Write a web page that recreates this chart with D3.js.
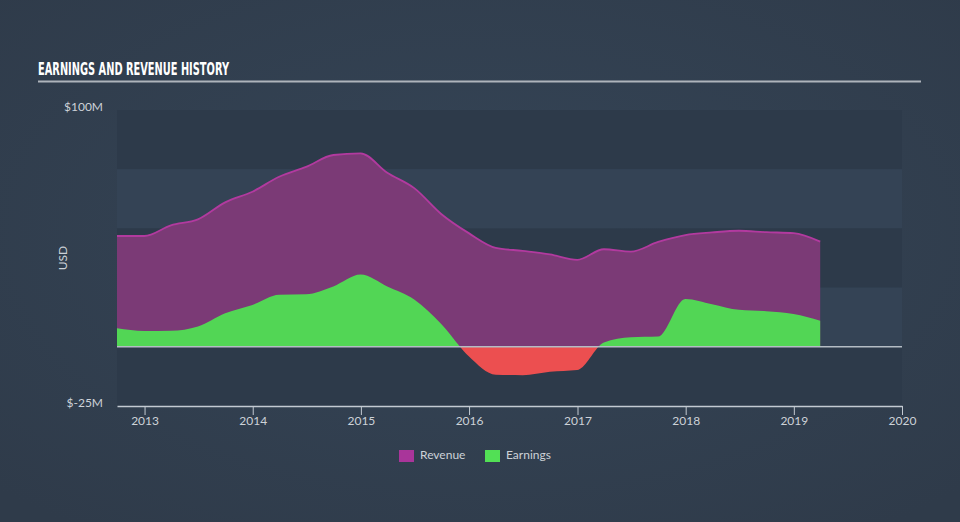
<!DOCTYPE html>
<html>
<head>
<meta charset="utf-8">
<script src="https://cdn.jsdelivr.net/npm/d3@7"></script>
<style>
  html, body { margin: 0; padding: 0; background: #323f4f; }
  svg { display: block; }
</style>
</head>
<body>
<svg id="chart" width="960" height="522"></svg>
<script>
// ---- data ----
const dates = [
  "2012-09-30","2012-12-31","2013-03-31","2013-06-30","2013-09-30","2013-12-31",
  "2014-03-31","2014-06-30","2014-09-30","2014-12-31","2015-03-31","2015-06-30",
  "2015-09-30","2015-12-31","2016-03-31","2016-06-30","2016-09-30","2016-12-31",
  "2017-03-31","2017-06-30","2017-09-30","2017-12-31","2018-03-31","2018-06-30",
  "2018-09-30","2018-12-31","2019-03-31"
];
const revenue = [
  46.8, 46.8, 51.3, 53.8, 61.0, 65.5,
  71.8, 76.0, 81.0, 81.7, 73.5, 67.0,
  56.0, 48.0, 41.8, 40.5, 39.0, 36.7,
  41.2, 40.2, 44.3, 47.2, 48.3, 49.0,
  48.4, 48.0, 44.4
];
const earnings = [
  7.8, 6.7, 6.8, 8.6, 14.2, 17.7,
  22.0, 22.2, 25.5, 30.5, 25.5, 20.0,
  9.5, -4.0, -11.8, -12.0, -10.5, -9.8,
  1.8, 4.0, 4.3, 20.2, 18.0, 15.6,
  15.0, 13.8, 11.0
];
const yTicks = [100, -25];
const yTickLabels = ["$100M", "$-25M"];
const xTickYears = [2013, 2014, 2015, 2016, 2017, 2018, 2019, 2020];
const bandEdges = [100, 75, 50, 25, 0, -25];
const legendItems = ["Revenue", "Earnings"];

(function () {
const parse = d3.timeParse("%Y-%m-%d");
const rows = dates.map((d, i) => ({ date: parse(d), rev: revenue[i], earn: earnings[i] }));

const svg = d3.select("#chart");
const W = 960, H = 522;
const pL = 117, pR = 902, pT = 110, pB = 406;

const defs = svg.append("defs");
const bg = defs.append("radialGradient").attr("id", "bg").attr("cx", "50%").attr("cy", "45%").attr("r", "70%");
bg.append("stop").attr("offset", "0%").attr("stop-color", "#354557");
bg.append("stop").attr("offset", "100%").attr("stop-color", "#2f3b4a");
svg.append("rect").attr("width", W).attr("height", H).attr("fill", "url(#bg)");

const x = d3.scaleTime()
  .domain([parse("2012-09-30"), parse("2020-01-01")])
  .range([pL, pR]);
const y = d3.scaleLinear().domain([-25, 100]).range([pB, pT]);

// bands
const bandColors = ["#2d3a4a", "#344355", "#2d3a4a", "#344355", "#2d3a4a"];
svg.append("g").selectAll("rect")
  .data(d3.pairs(bandEdges))
  .join("rect")
  .attr("x", pL)
  .attr("width", pR - pL)
  .attr("y", d => y(d[0]))
  .attr("height", d => y(d[1]) - y(d[0]))
  .attr("fill", (d, i) => bandColors[i]);

// title
svg.append("text")
  .attr("x", 38).attr("y", 75)
  .attr("font-family", "'Liberation Sans Narrow', 'DejaVu Sans Condensed', sans-serif")
  .attr("font-weight", "bold")
  .attr("font-size", 18)
  .attr("fill", "#ffffff")
  .attr("textLength", 191)
  .attr("lengthAdjust", "spacingAndGlyphs")
  .text("EARNINGS AND REVENUE HISTORY");
svg.append("line")
  .attr("x1", 38).attr("x2", 921).attr("y1", 81.5).attr("y2", 81.5)
  .attr("stroke", "#aeb4bb").attr("stroke-width", 2);

// areas
const revArea = d3.area().curve(d3.curveMonotoneX)
  .x(d => x(d.date)).y0(y(0)).y1(d => y(d.rev));
const revLine = d3.line().curve(d3.curveMonotoneX)
  .x(d => x(d.date)).y(d => y(d.rev));
const earnArea = d3.area().curve(d3.curveMonotoneX)
  .x(d => x(d.date)).y0(y(0)).y1(d => y(d.earn));

svg.append("path").datum(rows).attr("d", revArea).attr("fill", "#7b3a76");
svg.append("path").datum(rows).attr("d", revLine)
  .attr("fill", "none").attr("stroke", "#b23a9f").attr("stroke-width", 1.8);

defs.append("clipPath").attr("id", "pos").append("rect")
  .attr("x", 0).attr("y", 0).attr("width", W).attr("height", y(0));
defs.append("clipPath").attr("id", "neg").append("rect")
  .attr("x", 0).attr("y", y(0)).attr("width", W).attr("height", H - y(0));

svg.append("path").datum(rows).attr("d", earnArea)
  .attr("fill", "#52d655").attr("clip-path", "url(#pos)");
svg.append("path").datum(rows).attr("d", earnArea)
  .attr("fill", "#ec4f50").attr("clip-path", "url(#neg)");

// zero line
svg.append("line")
  .attr("x1", pL).attr("x2", pR).attr("y1", y(0)).attr("y2", y(0))
  .attr("stroke", "#b4bcc4").attr("stroke-width", 1.5);

// x axis
const xAxis = d3.axisBottom(x)
  .tickValues(xTickYears.map(yr => new Date(yr, 0, 1)))
  .tickFormat(d3.timeFormat("%Y"))
  .tickSize(9)
  .tickSizeOuter(0);
const gx = svg.append("g").attr("transform", `translate(0,${pB})`).call(xAxis);
gx.select(".domain").attr("stroke", "#c3cad2").attr("stroke-width", 1.5);
gx.selectAll(".tick line").attr("stroke", "#c3cad2");
gx.selectAll(".tick text")
  .attr("fill", "#cdd2d8")
  .attr("font-family", "Lato, 'Open Sans', sans-serif")
  .attr("font-size", 12)
  .attr("dy", "0.55em");

// y labels
svg.append("g").selectAll("text")
  .data(yTicks)
  .join("text")
  .attr("x", 103)
  .attr("y", d => y(d) - 2)
  .attr("text-anchor", "end")
  .attr("dominant-baseline", "middle")
  .attr("fill", "#cdd2d8")
  .attr("font-family", "Lato, 'Open Sans', sans-serif")
  .attr("font-size", 12)
  .text((d, i) => yTickLabels[i]);

svg.append("text")
  .attr("transform", "translate(64,258) rotate(-90)")
  .attr("text-anchor", "middle")
  .attr("dominant-baseline", "middle")
  .attr("fill", "#cdd2d8")
  .attr("font-family", "Lato, 'Open Sans', sans-serif")
  .attr("font-size", 12)
  .text("USD");

// legend
const legendColors = ["#a9359a", "#52e055"];
const legendX = [399, 485];
const lg = svg.append("g");
legendItems.forEach((name, i) => {
  lg.append("rect").attr("x", legendX[i]).attr("y", 450).attr("width", 15).attr("height", 12)
    .attr("fill", legendColors[i]);
  lg.append("text").attr("x", legendX[i] + 21).attr("y", 456)
    .attr("dominant-baseline", "middle")
    .attr("fill", "#cdd2d8")
    .attr("font-family", "Lato, 'Open Sans', sans-serif")
    .attr("font-size", 12)
    .text(name);
});
})();
</script>
</body>
</html>
